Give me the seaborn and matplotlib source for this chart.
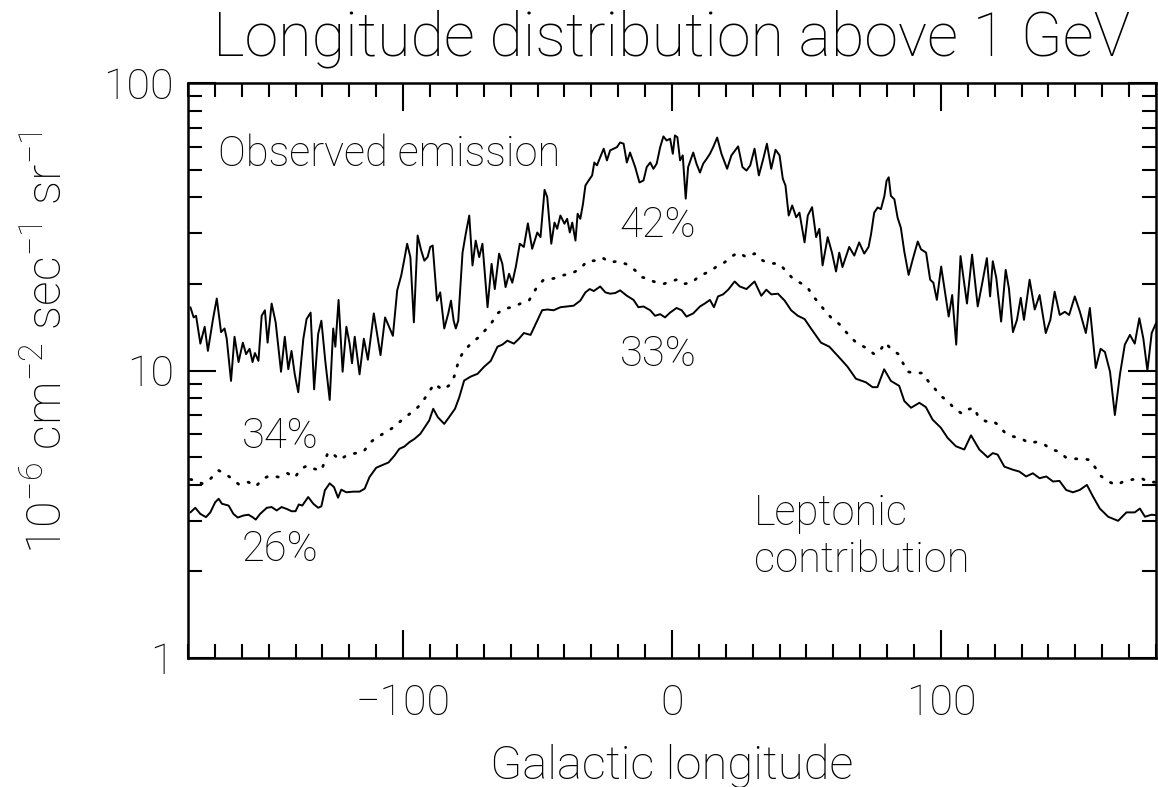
import numpy as np
import pandas as pd
import matplotlib
matplotlib.use("Agg")
import matplotlib.pyplot as plt
import matplotlib.ticker as mticker
import seaborn as sns

# Observed emission (longitude in deg, flux in 1e-6 cm^-2 s^-1 sr^-1)
obs_lon = [-179.1, -177.9, -177.0, -175.4, -173.8, -172.6, -170.7, -169.3, -167.7, -166.4,
           -165.6, -164.0, -162.7, -161.2, -159.6, -158.4, -157.1, -156.0, -155.1, -153.8,
           -152.6, -151.4, -150.4, -148.9, -147.4, -145.4, -144.0, -142.7, -141.5, -140.3,
           -139.0, -137.1, -135.9, -134.4, -133.1, -131.6, -130.4, -128.9, -127.3, -126.0,
           -125.2, -124.0, -122.5, -121.1, -119.9, -119.0, -118.0, -116.2, -114.6, -113.1,
           -110.9, -108.4, -106.7, -103.8, -102.2, -100.7, -99.5, -98.5, -97.3, -96.0,
           -94.6, -93.3, -92.1, -90.9, -89.9, -89.0, -87.4, -86.2, -84.7, -83.2,
           -82.2, -81.2, -80.4, -79.5, -77.9, -76.7, -75.4, -74.2, -73.0, -71.7,
           -70.5, -68.6, -67.1, -65.9, -64.3, -63.1, -61.9, -60.6, -59.4, -58.1,
           -56.6, -55.1, -53.6, -52.0, -50.1, -48.9, -47.4, -46.4, -44.9, -43.7,
           -42.7, -41.5, -40.0, -39.0, -38.0, -37.1, -35.9, -35.1, -34.1, -33.1,
           -32.2, -31.0, -29.7, -28.9, -27.9, -26.7, -25.4, -24.2, -23.0, -21.7,
           -20.5, -19.3, -18.0, -16.8, -15.6, -13.7, -12.1, -10.6, -9.4, -8.1,
           -6.9, -5.7, -4.4, -3.2, -2.0, -0.7, 0.3, 1.1, 2.0, 3.0,
           4.0, 5.1, 6.0, 7.9, 9.1, 10.4, 11.6, 12.9, 14.1, 15.3,
           16.8, 18.4, 20.5, 22.1, 24.6, 26.2, 27.7, 29.1, 30.7, 32.3,
           34.1, 35.3, 36.9, 38.5, 40.0, 41.2, 42.2, 43.4, 44.7, 46.2,
           47.4, 49.3, 50.5, 52.1, 53.6, 54.8, 56.0, 57.9, 59.5, 61.0,
           62.2, 63.4, 65.9, 67.8, 69.6, 71.5, 73.1, 74.0, 75.2, 76.5,
           77.7, 79.0, 79.8, 80.6, 81.4, 82.7, 83.9, 85.1, 86.4, 88.0,
           89.5, 91.4, 92.6, 94.5, 96.0, 97.2, 98.5, 100.1, 101.7, 102.9,
           104.2, 105.7, 107.3, 109.7, 111.6, 113.7, 115.4, 117.1, 118.3, 119.3,
           120.6, 122.4, 124.1, 125.3, 126.8, 128.3, 129.7, 130.9, 133.0, 134.9,
           136.7, 139.0, 140.7, 142.3, 144.2, 146.1, 147.7, 149.8, 151.7, 153.9,
           155.4, 157.6, 159.4, 161.0, 162.9, 164.7, 166.6, 168.4, 170.3, 172.1,
           173.8, 175.3, 176.8, 178.4, 180.0]
obs_flux = [16.6, 15.3, 15.5, 12.4, 14.2, 11.7, 15.1, 17.8, 13.6, 14.0,
            12.9, 9.2, 13.1, 10.7, 12.5, 11.4, 11.9, 10.7, 11.5, 10.8,
            15.5, 16.2, 12.5, 17.1, 14.7, 9.9, 13.1, 10.1, 11.7, 9.7,
            8.4, 12.9, 15.1, 15.9, 8.6, 13.4, 14.9, 10.7, 7.9, 14.0,
            12.1, 17.6, 9.9, 14.2, 12.4, 10.6, 13.1, 9.7, 12.9, 10.9,
            15.8, 11.3, 15.3, 13.2, 19.0, 21.4, 24.5, 27.6, 24.8, 14.7,
            29.5, 26.2, 24.1, 24.8, 26.9, 27.2, 17.5, 18.7, 14.0, 15.8,
            17.5, 14.9, 14.0, 14.9, 25.7, 29.9, 34.6, 23.2, 28.3, 24.8,
            27.6, 16.6, 23.5, 19.2, 25.5, 23.5, 19.5, 21.7, 20.2, 22.9,
            27.6, 26.9, 32.5, 26.5, 30.2, 29.1, 42.5, 40.1, 27.6, 32.7,
            31.1, 34.6, 32.4, 33.7, 30.2, 32.7, 28.3, 35.1, 33.7, 38.0,
            44.0, 45.8, 47.7, 52.9, 51.7, 55.2, 59.1, 53.8, 58.3, 59.1,
            59.8, 62.1, 61.5, 52.9, 57.3, 51.0, 45.1, 45.8, 51.0, 52.9,
            50.3, 52.4, 59.8, 65.2, 63.1, 64.0, 56.7, 65.7, 64.8, 53.8,
            56.0, 39.6, 51.0, 57.3, 52.4, 48.8, 52.4, 54.5, 56.7, 59.8,
            64.6, 56.7, 50.3, 56.0, 60.2, 51.0, 49.6, 51.7, 59.1, 47.7,
            55.2, 61.5, 50.3, 58.6, 56.0, 46.5, 44.0, 34.6, 37.5, 34.1,
            35.4, 27.9, 34.6, 37.0, 29.1, 31.1, 23.2, 29.1, 25.7, 22.1,
            25.7, 22.9, 26.9, 25.1, 27.9, 25.5, 26.9, 29.7, 35.4, 36.9,
            36.4, 40.5, 45.7, 47.0, 40.5, 39.4, 34.0, 31.4, 25.9, 21.5,
            24.3, 28.1, 26.4, 25.7, 20.7, 20.2, 17.6, 23.0, 18.3, 15.4,
            18.3, 12.3, 25.0, 17.1, 25.3, 16.7, 20.2, 24.6, 18.1, 24.0,
            21.0, 14.8, 22.4, 19.3, 13.6, 15.0, 17.9, 15.0, 20.7, 16.3,
            18.3, 13.5, 15.0, 18.8, 15.6, 16.0, 15.6, 18.1, 16.0, 13.5,
            16.5, 10.2, 11.9, 11.6, 9.9, 7.0, 9.7, 12.3, 13.3, 12.4,
            15.2, 12.9, 10.0, 13.5, 14.6]

# Lower solid curve
sol_lon = [-179.1, -177.3, -175.4, -173.3, -171.7, -169.9, -168.6, -167.4, -164.9, -163.1,
           -161.5, -159.4, -157.5, -156.0, -154.8, -153.2, -150.7, -148.9, -147.0, -145.2,
           -143.3, -141.5, -140.0, -138.8, -137.5, -135.3, -133.4, -131.6, -130.4, -129.1,
           -127.3, -125.7, -124.2, -123.0, -121.1, -118.6, -116.2, -114.3, -112.5, -110.0,
           -107.5, -105.4, -103.2, -101.4, -99.5, -97.7, -95.8, -93.6, -91.5, -90.3,
           -88.8, -87.1, -84.7, -82.9, -80.7, -79.1, -77.3, -74.8, -72.3, -69.9,
           -67.4, -64.9, -63.1, -61.2, -58.8, -56.9, -55.1, -52.6, -50.7, -48.3,
           -46.4, -44.0, -41.5, -39.0, -36.6, -34.1, -32.2, -30.6, -29.1, -26.7,
           -24.8, -23.0, -21.1, -19.3, -16.8, -14.3, -12.5, -10.6, -8.1, -6.3,
           -4.4, -2.6, -0.7, 1.7, 3.6, 5.4, 7.9, 10.4, 12.2, 14.1,
           15.6, 17.1, 19.0, 20.9, 23.3, 25.2, 27.7, 30.7, 33.2, 35.1,
           36.9, 39.4, 41.9, 44.3, 46.8, 49.3, 51.7, 55.4, 58.5, 62.2,
           65.3, 68.4, 72.1, 74.6, 76.4, 78.9, 81.4, 84.5, 86.4, 88.9,
           92.0, 94.4, 96.9, 100.0, 102.5, 105.6, 108.7, 111.2, 114.3, 117.4,
           119.3, 121.1, 123.6, 126.7, 129.2, 131.7, 134.2, 136.7, 139.2, 141.7,
           144.1, 146.6, 149.1, 151.6, 154.3, 156.6, 159.1, 162.2, 165.9, 169.0,
           172.1, 174.0, 175.9, 178.3, 180.0]
sol_flux = [3.21, 3.33, 3.17, 3.09, 3.21, 3.48, 3.58, 3.44, 3.39, 3.17,
            3.08, 3.13, 3.15, 3.09, 3.03, 3.17, 3.33, 3.35, 3.26, 3.35,
            3.30, 3.24, 3.24, 3.42, 3.39, 3.63, 3.44, 3.33, 3.37, 3.83,
            4.05, 3.93, 3.61, 3.85, 3.77, 3.79, 3.79, 3.88, 4.26, 4.59,
            4.70, 4.79, 5.06, 5.34, 5.44, 5.63, 5.78, 6.02, 6.44, 6.70,
            7.36, 6.88, 6.52, 6.88, 7.36, 8.08, 9.23, 9.53, 9.74, 10.3,
            10.8, 12.1, 12.3, 12.7, 12.4, 12.9, 13.5, 13.3, 14.5, 16.2,
            16.3, 16.2, 16.6, 16.7, 16.8, 17.5, 18.7, 19.2, 18.9, 19.6,
            18.7, 18.5, 18.6, 19.0, 18.2, 17.6, 16.6, 16.7, 16.2, 15.5,
            15.7, 15.3, 15.9, 16.5, 16.2, 15.4, 15.8, 16.7, 17.1, 17.6,
            16.6, 18.1, 18.4, 19.1, 20.4, 19.6, 19.2, 20.4, 18.2, 19.1,
            18.4, 18.5, 17.5, 16.2, 15.5, 15.1, 14.0, 12.5, 12.1, 11.1,
            10.3, 9.36, 9.10, 8.75, 8.75, 10.1, 9.20, 8.84, 7.83, 7.42,
            7.72, 7.46, 6.75, 6.32, 5.83, 5.45, 5.31, 5.95, 5.31, 4.99,
            5.16, 5.10, 4.63, 4.52, 4.45, 4.28, 4.39, 4.22, 4.28, 4.11,
            4.13, 3.84, 3.77, 3.84, 4.00, 3.64, 3.31, 3.10, 3.00, 3.21,
            3.21, 3.31, 3.10, 3.15, 3.14]

# Dotted curve
dot_lon = [-179.1, -176.7, -174.8, -172.3, -170.5, -168.6, -166.2, -163.7, -161.0, -157.5,
           -154.8, -152.0, -149.5, -146.4, -143.0, -140.3, -138.0, -135.6, -133.1, -130.4,
           -127.9, -125.4, -123.6, -120.5, -117.4, -114.6, -112.5, -110.0, -107.1, -104.2,
           -101.4, -98.9, -95.8, -93.3, -89.6, -88.4, -85.3, -82.9, -81.0, -79.1,
           -77.3, -74.8, -71.7, -67.4, -64.9, -62.5, -59.4, -56.3, -53.2, -50.1,
           -47.7, -44.0, -40.9, -37.1, -34.1, -31.6, -28.8, -26.0, -23.0, -19.9,
           -16.8, -13.7, -11.2, -8.8, -6.9, -3.2, 1.7, 4.2, 7.3, 10.4,
           14.1, 16.6, 19.6, 22.7, 24.6, 27.7, 30.7, 33.8, 36.9, 40.0,
           42.5, 44.9, 48.0, 50.5, 52.3, 54.8, 56.7, 59.1, 62.2, 66.6,
           69.0, 72.1, 75.2, 77.3, 79.3, 81.4, 84.2, 85.7, 87.6, 90.4,
           93.2, 95.4, 97.9, 100.0, 102.5, 105.0, 107.9, 110.3, 112.4, 113.7,
           116.6, 119.0, 121.1, 123.6, 126.7, 129.9, 132.7, 135.4, 138.6, 141.0,
           143.9, 146.4, 149.7, 152.6, 155.3, 157.6, 159.3, 162.2, 165.3, 168.4,
           171.5, 174.6, 177.1, 180.0]
dot_flux = [4.18, 4.14, 4.04, 4.14, 4.31, 4.49, 4.37, 4.21, 4.01, 4.09,
            3.95, 4.21, 4.31, 4.26, 4.39, 4.24, 4.55, 4.67, 4.55, 4.49,
            5.20, 5.06, 4.89, 5.10, 5.16, 5.23, 5.59, 5.84, 6.05, 6.29,
            6.61, 6.92, 7.26, 7.65, 8.64, 8.99, 8.57, 8.87, 9.53, 11.0,
            11.7, 12.4, 13.1, 14.5, 15.8, 16.4, 16.6, 17.1, 17.5, 19.6,
            20.7, 20.9, 21.4, 21.8, 22.6, 24.0, 24.1, 24.7, 23.8, 24.0,
            23.4, 22.3, 21.1, 20.9, 20.4, 20.0, 20.7, 20.0, 20.2, 21.4,
            22.1, 23.0, 23.8, 25.1, 25.7, 24.8, 25.5, 24.1, 23.6, 23.5,
            22.1, 20.9, 20.1, 19.4, 18.2, 17.1, 16.2, 15.3, 14.5, 13.0,
            12.4, 12.0, 11.4, 11.7, 12.5, 11.9, 11.4, 10.7, 9.9, 9.8,
            9.8, 9.15, 8.61, 8.15, 7.83, 7.38, 7.07, 7.33, 7.42, 6.97,
            6.66, 6.70, 6.49, 6.11, 5.90, 5.80, 5.60, 5.64, 5.52, 5.31,
            5.23, 4.99, 4.93, 4.93, 4.89, 4.57, 4.31, 4.11, 4.00, 4.13,
            4.18, 4.22, 4.09, 4.09]

labels = ["Observed emission", "42%", "33%", "34%", "26%", "Leptonic", "contribution"]

sns.set_style("ticks")
plt.rcParams['font.family'] = ['Roboto', 'DejaVu Sans']
plt.rcParams['mathtext.fontset'] = 'custom'
plt.rcParams['mathtext.rm'] = 'Roboto:light'
plt.rcParams['mathtext.default'] = 'regular'
plt.rcParams['text.color'] = 'black'
plt.rcParams['axes.labelcolor'] = 'black'
plt.rcParams['xtick.color'] = 'black'
plt.rcParams['ytick.color'] = 'black'
plt.rcParams['axes.edgecolor'] = 'black'

W, H = 1158, 787
fig = plt.figure(figsize=(W / 100, H / 100), dpi=100)
ax = fig.add_axes([188 / W, 1 - 658 / H, (1156 - 188) / W, (658 - 83) / H])

df_obs = pd.DataFrame({'lon': obs_lon, 'flux': obs_flux})
df_sol = pd.DataFrame({'lon': sol_lon, 'flux': sol_flux})
df_dot = pd.DataFrame({'lon': dot_lon, 'flux': dot_flux})

sns.lineplot(data=df_obs, x='lon', y='flux', ax=ax, color='black', lw=1.4,
             estimator=None, sort=False)
sns.lineplot(data=df_sol, x='lon', y='flux', ax=ax, color='black', lw=1.4,
             estimator=None, sort=False)
sns.lineplot(data=df_dot, x='lon', y='flux', ax=ax, color='black', lw=2.0,
             linestyle=(0, (0.5, 3.6)), dash_capstyle='round',
             estimator=None, sort=False)

ax.set_yscale('log')
ax.set_xlim(-180, 180)
ax.set_ylim(1, 100)

ax.xaxis.set_major_locator(mticker.MultipleLocator(100))
ax.xaxis.set_minor_locator(mticker.MultipleLocator(10))
ax.yaxis.set_major_locator(mticker.FixedLocator([1, 10, 100]))
ax.yaxis.set_major_formatter(mticker.FixedFormatter(['1', '10', '100']))
ax.yaxis.set_minor_locator(mticker.LogLocator(base=10, subs=np.arange(2, 10)))
ax.yaxis.set_minor_formatter(mticker.NullFormatter())

ax.tick_params(which='both', direction='in', top=True, right=True, width=1.5,
               labelsize=31)
ax.tick_params(axis='x', which='both', pad=18)
ax.tick_params(axis='y', which='both', pad=10)
ax.tick_params(which='major', length=20)
ax.tick_params(which='minor', length=10)
for lab in ax.get_xticklabels() + ax.get_yticklabels():
    lab.set_fontweight('light')
for sp in ax.spines.values():
    sp.set_linewidth(1.8)

ax.set_xlabel('Galactic longitude', fontsize=34, fontweight='light', labelpad=14)
ax.set_ylabel(r'10$^{-6}$ cm$^{-2}$ sec$^{-1}$ sr$^{-1}$', fontsize=35,
              fontweight='light')
ax.yaxis.set_label_coords(-0.12, 0.548)
ax.set_title('Longitude distribution above 1 GeV', fontsize=44,
             fontweight='light', pad=20)

txt = dict(transform=ax.transAxes, fontsize=30, fontweight='light', va='center', ha='left')
ax.text(0.031, 0.875, labels[0], **txt)
ax.text(0.446, 0.753, labels[1], **txt)
ax.text(0.446, 0.527, labels[2], **txt)
ax.text(0.0557, 0.386, labels[3], **txt)
ax.text(0.0557, 0.188, labels[4], **txt)
ax.text(0.585, 0.252, labels[5], **txt)
ax.text(0.585, 0.170, labels[6], **txt)

fig.savefig('out.png', dpi=100)
